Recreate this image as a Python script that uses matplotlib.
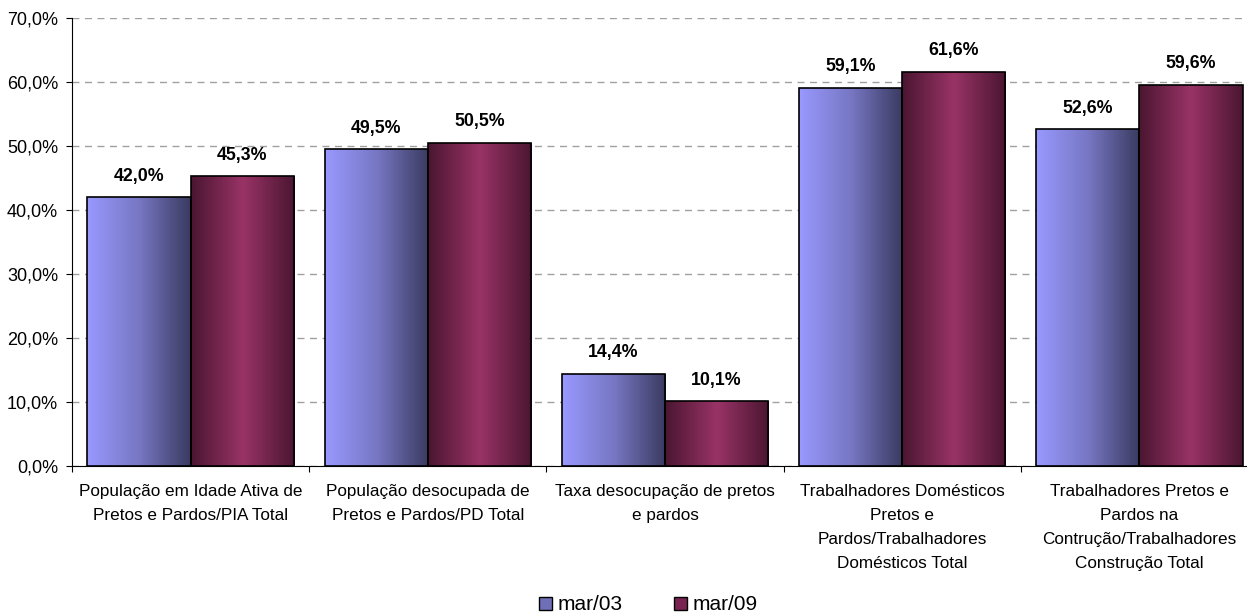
import matplotlib
matplotlib.use("Agg")
import matplotlib.pyplot as plt
import numpy as np
from matplotlib.colors import LinearSegmentedColormap
from matplotlib.patches import Rectangle, Patch
from matplotlib.ticker import FuncFormatter, MultipleLocator

plt.rcParams['font.family'] = ['Liberation Sans', 'DejaVu Sans']

categories = [
    "População em Idade Ativa de\nPretos e Pardos/PIA Total",
    "População desocupada de\nPretos e Pardos/PD Total",
    "Taxa desocupação de pretos\ne pardos",
    "Trabalhadores Domésticos\nPretos e\nPardos/Trabalhadores\nDomésticos Total",
    "Trabalhadores Pretos e\nPardos na\nContrução/Trabalhadores\nConstrução Total",
]
series_names = ["mar/03", "mar/09"]
mar03 = [42.0, 49.5, 14.4, 59.1, 52.6]
mar09 = [45.3, 50.5, 10.1, 61.6, 59.6]

cmap03 = LinearSegmentedColormap.from_list("c03", ["#9999FF", "#7777C4", "#3A3A60"])
cmap09 = LinearSegmentedColormap.from_list(
    "c09", [(0.0, "#4A1631"), (0.5, "#993366"), (1.0, "#4A1631")])

fig = plt.figure(figsize=(12.47, 6.13), dpi=100)
W, H = 1247, 613
left, right, top, bottom = 72, 1258, 18, 466
ax = fig.add_axes([left / W, 1 - bottom / H, (right - left) / W, (bottom - top) / H])

x = np.arange(len(categories))
bw = 0.435

def gradient_bars(xs, vals, cmap, label):
    bars = ax.bar(xs, vals, bw, color="none", edgecolor="black", linewidth=1.2,
                  zorder=3, label=label)
    grad = np.linspace(0, 1, 256).reshape(1, -1)
    for b in bars:
        x0, y0 = b.get_x(), b.get_y()
        w, h = b.get_width(), b.get_height()
        im = ax.imshow(grad, cmap=cmap, aspect="auto", extent=[x0, x0 + w, y0, y0 + h],
                       zorder=2, interpolation="bilinear")
        im.set_clip_path(Rectangle((x0, y0), w, h, transform=ax.transData))
        ax.annotate(f"{h:.1f}%".replace(".", ","), (x0 + w / 2, y0 + h),
                    xytext=(0, 9), textcoords="offset points", ha="center", va="bottom",
                    fontsize=12.8, fontweight="bold", zorder=4)
    return bars

gradient_bars(x - bw / 2, mar03, cmap03, series_names[0])
gradient_bars(x + bw / 2, mar09, cmap09, series_names[1])

ax.set_xlim(-0.5, len(categories) - 0.5)
ax.set_ylim(0, 70)
ax.yaxis.set_major_locator(MultipleLocator(10))
ax.yaxis.set_major_formatter(FuncFormatter(lambda v, p: f"{v:.1f}%".replace(".", ",")))
ax.yaxis.grid(True, color="#A0A0A0", linestyle=(0, (5, 4)), linewidth=1, zorder=0)
ax.set_axisbelow(True)

ax.set_xticks(np.arange(len(categories) + 1) - 0.5, minor=False)
ax.set_xticklabels([])
ax.set_xticks(x, minor=True)
ax.set_xticklabels(categories, minor=True, fontsize=12.3, linespacing=1.74)
ax.tick_params(axis="x", which="minor", length=0, pad=13)
ax.tick_params(axis="x", which="major", length=4, direction="out")
ax.tick_params(axis="y", length=4, labelsize=13, pad=6)

for s in ["top", "right"]:
    ax.spines[s].set_visible(False)
ax.spines["left"].set_color("black")
ax.spines["bottom"].set_color("black")

handles = [Patch(facecolor="#6F6FB8", edgecolor="black", label=series_names[0]),
           Patch(facecolor="#7A2250", edgecolor="black", label=series_names[1])]
fig.legend(handles=handles, loc="center", bbox_to_anchor=(648.5 / W, 1 - 605 / H), ncol=2,
           frameon=False, fontsize=15, handlelength=0.6, handleheight=0.6,
           handletextpad=0.3, columnspacing=2.45, borderpad=0.2)

fig.savefig("out.png", dpi=100)
